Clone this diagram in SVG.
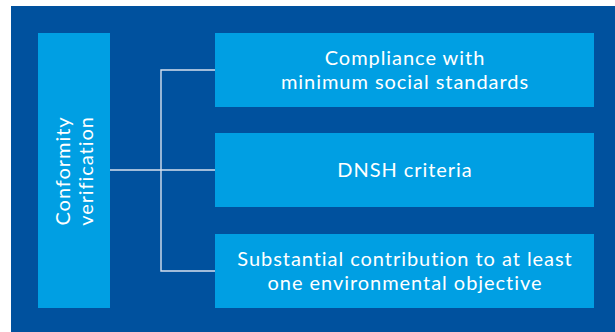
<svg xmlns="http://www.w3.org/2000/svg" width="615" height="332" viewBox="0 0 615 332">
<style>
.box{fill:#009FE3}
.t{font-family:Lato,"Open Sans","Liberation Sans",sans-serif;font-size:20px;letter-spacing:0.95px;fill:#ffffff;text-anchor:middle}
.ln{stroke:#D6E0EE;stroke-width:1.4;fill:none}
</style>
<rect x="0" y="0" width="615" height="332" fill="#ffffff"/>
<rect x="11" y="6" width="604" height="326" fill="#00519E"/>
<g id="connectors">
<polyline class="ln" points="215,70 161,70 161,271 215,271"/>
<line class="ln" x1="110" y1="170" x2="215" y2="170"/>
</g>
<g id="conformity">
<rect class="box" x="38" y="33" width="72" height="275"/>
<text class="t" transform="translate(74,171) rotate(-90)"><tspan x="0" y="-4">Conformity</tspan><tspan x="0" y="19">verification</tspan></text>
</g>
<g id="compliance">
<rect class="box" x="215" y="33" width="379" height="74"/>
<text class="t"><tspan x="405" y="65">Compliance with</tspan><tspan x="405" y="89">minimum social standards</tspan></text>
</g>
<g id="dnsh">
<rect class="box" x="215" y="133" width="379" height="74"/>
<text class="t" x="405" y="177">DNSH criteria</text>
</g>
<g id="contribution">
<rect class="box" x="215" y="234" width="379" height="74"/>
<text class="t"><tspan x="405" y="266">Substantial contribution to at least</tspan><tspan x="405" y="290">one environmental objective</tspan></text>
</g>
</svg>
